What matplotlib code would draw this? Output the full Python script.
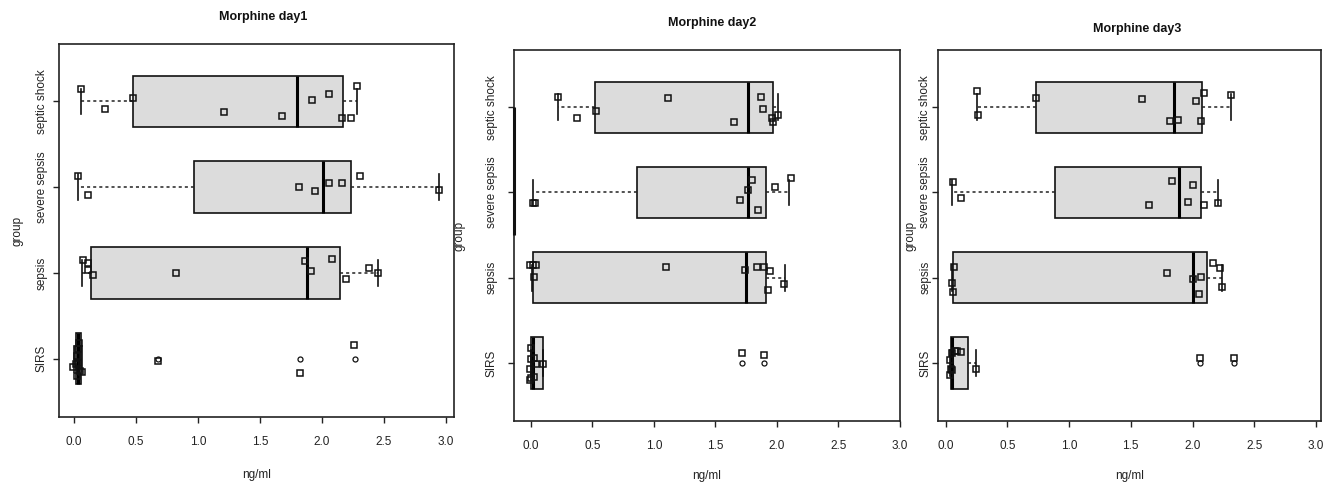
import numpy as np
import matplotlib.pyplot as plt

plt.rcParams['font.family'] = ['Liberation Sans', 'DejaVu Sans']

# group order bottom -> top
groups = ["SIRS", "sepsis", "severe sepsis", "septic shock"]
titles = ["Morphine day1", "Morphine day2", "Morphine day3"]
xticks = [0.0, 0.5, 1.0, 1.5, 2.0, 2.5, 3.0]

# box stats per group: (whislo, q1, median, q3, whishi)
day1_box = [(0.0, 0.02, 0.03, 0.055, 0.065), (0.067, 0.137, 1.876, 2.145, 2.449),
            (0.035, 0.968, 2.01, 2.234, 2.946), (0.056, 0.473, 1.80, 2.17, 2.285)]
day2_box = [(0.0, 0.0, 0.02, 0.10, 0.10), (0.008, 0.016, 1.751, 1.912, 2.067),
            (0.016, 0.866, 1.764, 1.912, 2.099), (0.217, 0.523, 1.764, 1.965, 2.005)]
day3_box = [(0.035, 0.041, 0.05, 0.184, 0.243), (0.049, 0.062, 2.001, 2.115, 2.236),
            (0.054, 0.888, 1.893, 2.066, 2.204), (0.251, 0.729, 1.85, 2.074, 2.309)]

# outliers (only SIRS has them)
day1_out = [[0.675, 1.823, 2.266], [], [], []]
day2_out = [[1.713, 1.893], [], [], []]
day3_out = [[2.062, 2.339], [], [], []]

# jittered points: values and vertical jitter offsets as seen in the picture
day1_x = [[-0.011, 0.016, 0.035, 0.048, 0.062, 0.027, 0.030, 0.038, 0.022, 0.675, 1.823, 2.26],
          [0.073, 0.116, 0.116, 0.153, 0.823, 1.866, 1.909, 2.078, 2.194, 2.376, 2.449],
          [0.035, 0.116, 1.817, 1.946, 2.056, 2.159, 2.304, 2.946],
          [0.056, 0.473, 0.253, 1.207, 1.675, 1.919, 2.056, 2.164, 2.234, 2.282]]
day1_jit = [[-0.097, -0.066, -0.047, -0.144, -0.156, 0.031, 0.109, 0.187, -0.202, -0.031, -0.163, 0.163],
            [0.156, 0.113, 0.039, -0.023, -0.004, 0.136, 0.023, 0.16, -0.07, 0.054, 0.0],
            [0.125, -0.093, 0.0, -0.043, 0.047, 0.054, 0.125, -0.031],
            [0.144, 0.039, -0.086, -0.121, -0.167, 0.012, 0.086, -0.191, -0.191, 0.175]]

day2_x = [[0.0, 0.003, 0.027, 0.04, 0.102, -0.005, 0.0, 0.029, -0.005, 1.713, 1.893],
          [-0.005, 0.021, 0.04, 0.027, 1.097, 1.743, 1.836, 1.898, 1.944, 1.925, 2.059],
          [0.016, 0.035, 1.794, 1.764, 1.702, 1.842, 1.984, 2.113],
          [0.217, 0.378, 0.528, 1.113, 1.654, 1.871, 1.890, 1.960, 1.965, 2.011]]
day2_jit = [[0.172, 0.051, 0.063, -0.008, -0.008, -0.066, -0.176, -0.164, -0.195, 0.117, 0.098],
            [0.145, 0.152, 0.148, 0.012, 0.125, 0.094, 0.125, 0.125, 0.074, -0.145, -0.078],
            [-0.121, -0.121, 0.148, 0.027, -0.086, -0.211, 0.063, 0.168],
            [0.117, -0.133, -0.051, 0.102, -0.18, 0.117, -0.027, -0.125, -0.18, -0.09]]

day3_x = [[0.035, 0.049, 0.076, 0.095, 0.122, 0.041, 0.054, 0.035, 0.243, 2.062, 2.333],
          [0.068, 0.049, 0.057, 1.796, 2.007, 2.069, 2.055, 2.168, 2.222, 2.236],
          [0.057, 0.122, 1.65, 1.834, 2.006, 1.963, 2.096, 2.204],
          [0.251, 0.259, 0.729, 1.591, 1.817, 1.88, 2.028, 2.066, 2.093, 2.309]]
day3_jit = [[0.031, 0.121, 0.141, 0.141, 0.129, -0.066, -0.078, -0.145, -0.074, 0.059, 0.059],
            [0.125, -0.059, -0.168, 0.059, -0.02, 0.012, -0.188, 0.172, 0.117, -0.105],
            [0.117, -0.066, -0.148, 0.137, 0.086, -0.113, -0.152, -0.125],
            [0.195, -0.09, 0.113, 0.098, -0.164, -0.148, 0.074, -0.164, 0.16, 0.145]]

# stray thick line on the left frame of the day2 panel (group span)
day2_stray = [2.5, 4.0]

W, H = 1328, 482
fig = plt.figure(figsize=(W / 100, H / 100), dpi=100)

# panel frames in pixels: left, right, top, bottom ; x limits
frames = [(59, 454, 44, 417), (514, 900, 50, 421), (938, 1321, 50, 421)]
xlims = [(-0.121, 3.065), (-0.137, 2.976), (-0.062, 3.041)]
ylab_x = [-0.105, -0.14, -0.072]
ytick_pad = [4.2, 7.8, 0.8]
title_pos = [(0.516, 1.072), (0.513, 1.073), (0.52, 1.057)]
xlab_y = [-0.155, -0.148, -0.148]

boxes = [day1_box, day2_box, day3_box]
outs = [day1_out, day2_out, day3_out]
pts_x = [day1_x, day2_x, day3_x]
pts_j = [day1_jit, day2_jit, day3_jit]

txt = '#222222'
for k in range(3):
    l, r, t, b = frames[k]
    ax = fig.add_axes([l / W, (H - b) / H, (r - l) / W, (b - t) / H])

    stats = []
    for g, (lo, q1, med, q3, hi) in enumerate(boxes[k]):
        stats.append(dict(whislo=lo, q1=q1, med=med, q3=q3, whishi=hi, fliers=outs[k][g]))
    ax.bxp(stats, positions=[1, 2, 3, 4], widths=0.6, capwidths=0.3, vert=False,
           patch_artist=True,
           boxprops=dict(facecolor='#dcdcdc', edgecolor='#111111', linewidth=1.2),
           medianprops=dict(color='#000000', linewidth=2.2),
           whiskerprops=dict(color='#222222', linewidth=1.1, linestyle=(0, (2, 2))),
           capprops=dict(color='#111111', linewidth=1.2),
           flierprops=dict(marker='o', markersize=3.6, markerfacecolor='none',
                           markeredgecolor='#111111', markeredgewidth=0.9))

    for g in range(4):
        xs = np.array(pts_x[k][g])
        ys = (g + 1) + np.array(pts_j[k][g])
        ax.plot(xs, ys, linestyle='none', marker='s', markersize=4.8,
                markerfacecolor='none', markeredgecolor='#111111', markeredgewidth=1.1,
                zorder=5)

    if k == 1:
        ax.plot([xlims[k][0], xlims[k][0]], day2_stray, color='#111111', linewidth=2.2,
                clip_on=False, zorder=6, solid_capstyle='butt')

    ax.set_xlim(*xlims[k])
    ax.set_ylim(0.32, 4.67)
    ax.set_xticks(xticks)
    ax.set_xticklabels([f"{v:.1f}" for v in xticks], fontsize=8.5, color=txt)
    ax.set_yticks([1, 2, 3, 4])
    ax.set_yticklabels(groups, rotation=90, va='center', fontsize=8.5, color=txt)
    ax.tick_params(axis='x', direction='out', length=4, width=1.0, pad=10, color='#222222')
    ax.tick_params(axis='y', direction='out', length=4, width=1.0, pad=ytick_pad[k], color='#222222')
    for s in ax.spines.values():
        s.set_linewidth(1.2)
        s.set_color('#222222')

    ax.set_xlabel("ng/ml", fontsize=8.5, color=txt, va='center')
    ax.xaxis.set_label_coords(0.5, xlab_y[k])
    ax.set_ylabel("group", fontsize=8.5, color=txt, va='center')
    ax.yaxis.set_label_coords(ylab_x[k], 0.5)
    ax.text(title_pos[k][0], title_pos[k][1], titles[k], transform=ax.transAxes,
            ha='center', va='center', fontsize=9, fontweight='bold', color='#111111')

fig.savefig("out.png", dpi=100)
